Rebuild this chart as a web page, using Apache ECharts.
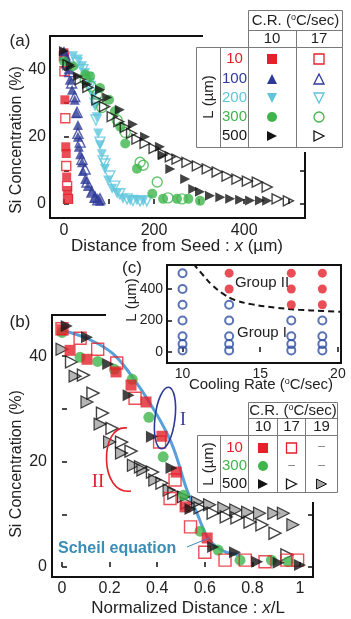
<!DOCTYPE html>
<html>
<head>
<meta charset="utf-8">
<script src="https://cdn.jsdelivr.net/npm/echarts@6/dist/echarts.min.js"></script>
<style>
html,body{margin:0;padding:0;background:#fff}
#chart{width:351px;height:619px}
</style>
</head>
<body>
<div id="chart"></div>
<script>
// ---------- Panel (a): Si concentration vs. distance from seed x (µm) ----------
// L = 10 µm
const a_L10_CR10 = [[0,45],[2,31],[4,17],[5,15],[6,8],[8,4],[10,1.5]];
const a_L10_CR17 = [[0,44],[1,39.5],[3,25.5],[5,11.3],[7,5.3],[9,1.5]];
// L = 100 µm
const a_L100_CR10 = [[0,45.5],[5,43.5],[10,40],[13,37],[18,34],[24,31],[28,27],[31,23.5],[31,20],[33,17],[36,14.8],[40,12.4],[42,9.8],[47,7.4],[53,5.3],[62,3.6],[69,2],[80,0.9]];
const a_L100_CR17 = [[2,44.4],[6,42],[13,39.4],[17,36],[24,32],[29,27.3],[31,21],[36,18.4],[40,13.3],[47,10.4],[51,6.5],[62,3.5],[69,2],[75,1.2],[80,1.5]];
// L = 200 µm
const a_L200_CR10 = [[20,44],[31,43],[40,41],[47,39],[58,36],[65,32],[69,29],[73,25.8],[76,21],[80,17.5],[84,14.8],[91,10.4],[98,7],[107,4.5],[118,3],[131,1.5],[147,1],[162,1],[176,0.8]];
const a_L200_CR17 = [[29,42],[42,40],[53,37.6],[58,35],[64,33],[69,30],[71,25],[80,18.4],[87,12.8],[91,11.9],[102,8.3],[113,5.3],[124,3],[140,1.5],[153,1],[169,0.9],[184,0.9]];
// L = 300 µm
const a_L300_CR10 = [[0,42.5],[20,41],[47,38.5],[58,38],[80,34.5],[100,31],[113,27.6],[125,23],[136,18],[162,10.5],[196,3],[220,1.5],[251,1.5],[276,1.5],[302,0.9]];
const a_L300_CR17 = [[47,37],[60,35],[73,32.6],[84,28.7],[118,25],[136,21.3],[169,12.4],[176,11.5],[207,6.5],[231,1.8],[262,1.5]];
// L = 500 µm
const a_L500_CR10 = [[0,45.5],[15,41],[31,38],[51,35.6],[80,34],[96,31.7],[124,28],[153,23.7],[180,20],[213,17],[220,14.5],[236,10.4],[269,7.4],[287,4.4],[302,3.6],[324,2.4],[347,2],[369,1.5],[391,1.2],[413,1],[435,1],[451,0.9]];
const a_L500_CR17 = [[9,41.5],[36,37],[53,34.7],[73,31],[90,29],[107,26],[122,24.5],[136,22.8],[150,21],[162,19.3],[180,18],[200,16.5],[220,15],[236,14],[251,13.3],[273,12.4],[296,11.3],[318,10.4],[340,9.5],[362,8.3],[384,7.4],[407,6.8],[429,6.5],[451,5],[473,1.5],[498,0.9]];

// ---------- Panel (b): Si concentration vs. normalized distance x/L ----------
const b_L10_CR10 = [[0,45],[0.034,41.1],[0.105,39.4],[0.227,37],[0.29,34.5],[0.353,31.3],[0.42,24.8],[0.48,18],[0.517,11.4],[0.61,5.5]];
const b_L10_CR17 = [[0,45.2],[0.076,43.4],[0.15,41.3],[0.23,38.7],[0.307,32],[0.41,23.7],[0.475,16.5],[0.454,13],[0.54,7.6],[0.6,2.8],[0.685,1.3],[0.77,1.3],[0.853,1],[0.945,1.3],[0.99,1.3]];
const b_L300_CR10 = [[0,44.5],[0.076,39.8],[0.15,39],[0.22,37.5],[0.295,35.6],[0.365,28.4],[0.425,20.9],[0.51,13.6],[0.58,6.8],[0.656,3.2],[0.748,1.3],[0.88,1.3],[0.95,1]];
const b_L500_CR10 = [[0.02,45.7],[0.105,43.6],[0.194,38.5],[0.28,32.6],[0.378,24.7],[0.46,18.8],[0.54,11],[0.635,3.8],[0.727,2.8],[0.82,1],[0.91,0.8],[1.0,0.4]];
const b_L500_CR17 = [[0.04,38.9],[0.09,36.4],[0.13,33],[0.17,29.2],[0.21,26.3],[0.25,23.7],[0.29,22],[0.33,19],[0.38,18],[0.42,15.9],[0.47,14],[0.525,12.1],[0.58,11.2],[0.635,10.2],[0.69,9.5],[0.735,9.3],[0.79,8.5],[0.84,8],[0.895,6.4],[0.945,2.3]];
const b_L500_CR19 = [[0,41.3],[0.055,36.2],[0.105,31.3],[0.16,27.1],[0.2,23.7],[0.25,21.6],[0.3,19.3],[0.34,18.4],[0.39,16.5],[0.45,14.6],[0.51,13.3],[0.57,12.3],[0.62,11.8],[0.68,11.2],[0.73,10.8],[0.78,10.4],[0.83,10.2],[0.89,10.2],[0.93,10.2],[0.97,8]];
// Scheil equation curve
const b_Scheil = [[0,44.9],[0.113,43.2],[0.21,40.6],[0.29,36.4],[0.38,30.3],[0.46,23.5],[0.525,14.6],[0.567,10.2],[0.61,5.7],[0.65,3.8],[0.69,2.8],[0.75,2.3]];

// ---------- Panel (c): L vs. cooling rate map ----------
const c_GroupI = [[10,500],[10,400],[10,300],[10,200],[10,100],[10,50],[10,10],[13,300],[13,200],[13,100],[13,50],[13,10],[17,200],[17,100],[17,50],[17,10],[19,200],[19,100],[19,50],[19,10]];
const c_GroupII = [[13,500],[13,400],[17,500],[17,400],[17,300],[19,500],[19,400],[19,300]];
const c_Boundary = [[10.7,560],[11.3,490],[11.9,425],[12.6,370],[13.35,330],[14.5,302],[15.9,282],[17.5,268],[19,260],[20.2,255]];

// ---------- tick and label values ----------
const aXTicks = [0,100,200,300,400,500], aXLabels = [0,200,400];
const aYTicks = [0,10,20,30,40], aYLabels = [0,20,40];
const bXTicks = [0,0.2,0.4,0.6,0.8,1], bXLabels = [0,0.2,0.4,0.6,0.8,1];
const bYTicks = [0,10,20,30,40], bYLabels = [0,20,40];
const cXTicks = [10,15,20], cXLabels = [10,15,20];
const cYTicks = [0,200,400], cYLabels = [0,200,400];
const rightTicks = [0,10];

// ---------- styling ----------
const RED = '#e4202b', BLUE = '#2d3a97', CYAN = '#5ec4dc', GREEN = '#3fb54b', BLACK = '#141414';
const GRAYF = '#a3a3a3', SCHEIL = '#5a9fd8', SCHEIL_TXT = '#3a8db5', CIRC = '#3150a3';
const INK = '#222', TL = '#7a7a7a';
const FONT = '"Liberation Sans", Arial, Helvetica, sans-serif';
const SERIF = '"Liberation Serif", "Times New Roman", serif';

const yIdx = [0, 2, 4];
const SYM = {square:'rect', circle:'circle', up:'triangle', down:'triangle', right:'triangle'};
const ROT = {square:0, circle:0, up:0, down:180, right:-90};

function pts(gi, data, shape, color, filled, size, extra) {
  return Object.assign({
    type: 'scatter', xAxisIndex: gi, yAxisIndex: yIdx[gi], data: data,
    symbol: SYM[shape], symbolRotate: ROT[shape], symbolSize: size,
    itemStyle: filled ? {color: color, borderWidth: 0}
                      : {color: 'rgba(255,255,255,0)', borderColor: color, borderWidth: 1.4},
    z: 3, silent: true, animation: false
  }, extra || {});
}

function xAxisCfg(gi, min, max, ticks, labels, fs, margin, fmt, z) {
  return {
    gridIndex: gi, type: 'value', min: min, max: max, z: z || 0,
    axisLine: {show: false}, splitLine: {show: false},
    axisTick: {show: true, inside: true, length: 5, customValues: ticks, lineStyle: {color: '#111', width: 1.5}},
    axisLabel: {show: true, customValues: labels, fontSize: fs, fontFamily: FONT, color: INK, margin: margin, formatter: fmt}
  };
}
function yAxisCfg(gi, min, max, ticks, labels, fs, margin, z) {
  return {
    gridIndex: gi, type: 'value', min: min, max: max, z: z || 0,
    axisLine: {show: false}, splitLine: {show: false},
    axisTick: {show: true, inside: true, length: 5, customValues: ticks, lineStyle: {color: '#111', width: 1.5}},
    axisLabel: {show: true, customValues: labels, fontSize: fs, fontFamily: FONT, color: INK, margin: margin}
  };
}
function rightAxisCfg(gi, min, max) {
  return {
    gridIndex: gi, type: 'value', position: 'right', min: min, max: max,
    axisLine: {show: false}, splitLine: {show: false},
    axisTick: {show: true, inside: true, length: 5, customValues: rightTicks, lineStyle: {color: '#111', width: 1.5}},
    axisLabel: {show: false}
  };
}

// ---------- graphic helpers (legend tables, annotations) ----------
function txt(x, y, text, opt) {
  opt = opt || {};
  return {
    type: 'text', x: x, y: y, rotation: opt.rotation || 0, z: opt.z || 10, silent: true,
    style: {
      text: text, fill: opt.color || INK, fontSize: opt.size || 15, fontFamily: opt.family || FONT,
      fontWeight: opt.weight || 'normal', align: opt.align || 'center', verticalAlign: 'middle',
      rich: opt.rich
    }
  };
}
function line(x1, y1, x2, y2, color, w, z) {
  return {type: 'line', z: z || 11, silent: true, shape: {x1: x1, y1: y1, x2: x2, y2: y2}, style: {stroke: color || TL, lineWidth: w || 1}};
}
function box(x, y, w, h, z) {
  return {type: 'rect', z: z || 10, silent: true, shape: {x: x, y: y, width: w, height: h}, style: {fill: '#fff', stroke: TL, lineWidth: 1}};
}
function cover(x, y, w, h) {
  return {type: 'rect', z: 1, silent: true, shape: {x: x, y: y, width: w, height: h}, style: {fill: '#fff'}};
}
function key(shape, cx, cy, color, filled, s, stroke) {
  const st = filled ? {fill: color, stroke: stroke || null, lineWidth: stroke ? 1 : 0}
                    : {fill: '#fff', stroke: color, lineWidth: 1.3};
  const h = s / 2;
  const base = {z: 12, silent: true, style: st};
  if (shape === 'square') return Object.assign({type: 'rect', shape: {x: cx - h, y: cy - h, width: s, height: s}}, base);
  if (shape === 'circle') return Object.assign({type: 'circle', shape: {cx: cx, cy: cy, r: h}}, base);
  let p;
  if (shape === 'up') p = [[cx, cy - h], [cx + h, cy + h], [cx - h, cy + h]];
  else if (shape === 'down') p = [[cx - h, cy - h], [cx + h, cy - h], [cx, cy + h]];
  else p = [[cx - h, cy - h], [cx + h, cy], [cx - h, cy + h]];
  return Object.assign({type: 'polygon', shape: {points: p}}, base);
}

const supRich = {s: {fontSize: 9, fontFamily: FONT, fill: INK, verticalAlign: 'top'}};
const italRich = {i: {fontStyle: 'italic', fontSize: 17, fontFamily: FONT, fill: INK}};

// legend table for panel (a)
const tableA = [
  box(248.5, 10.5, 94, 37), box(196.5, 47.5, 146, 100),
  line(248.5, 30.5, 342.5, 30.5), line(220.5, 47.5, 220.5, 147.5),
  line(248.5, 47.5, 248.5, 147.5), line(296.5, 30.5, 296.5, 147.5),
  txt(295.5, 20.5, 'C.R. ({s|o}C/sec)', {rich: supRich}),
  txt(272, 39, '10'), txt(319, 39, '17'),
  txt(208.5, 97, 'L (µm)', {rotation: Math.PI / 2})
];
[['10', RED, 59, 'square'], ['100', BLUE, 79, 'up'], ['200', CYAN, 98, 'down'], ['300', GREEN, 117, 'circle'], ['500', BLACK, 136, 'right']]
  .forEach(function (r) {
    tableA.push(txt(234.5, r[2], r[0], {color: r[1]}));
    tableA.push(key(r[3], 272, r[2], r[1], true, 10));
    tableA.push(key(r[3], 319, r[2], r[1], false, 10));
  });

// legend table for panel (b)
const tableB = [
  box(248.5, 402.5, 89, 33), box(197.5, 435.5, 140, 57),
  line(248.5, 418.5, 337.5, 418.5), line(220.5, 435.5, 220.5, 492.5),
  line(248.5, 435.5, 248.5, 492.5), line(277.5, 418.5, 277.5, 492.5), line(305.5, 418.5, 305.5, 492.5),
  txt(293, 410.5, 'C.R. ({s|o}C/sec)', {rich: supRich}),
  txt(263, 427, '10'), txt(291.5, 427, '17'), txt(321.5, 427, '19'),
  txt(209, 464, 'L (µm)', {rotation: Math.PI / 2}),
  txt(234.5, 448, '10', {color: RED}), txt(234.5, 466, '300', {color: GREEN}), txt(234.5, 484, '500', {color: BLACK}),
  key('square', 263, 448, RED, true, 10), key('square', 291.5, 448, RED, false, 10),
  key('circle', 263, 466, GREEN, true, 10),
  key('right', 263, 484, BLACK, true, 10), key('right', 291.5, 484, BLACK, false, 10),
  key('right', 321.5, 484, GRAYF, true, 10, BLACK),
  txt(321.5, 447, '–', {color: '#777', size: 12}), txt(291.5, 466, '–', {color: '#777', size: 12}),
  txt(321.5, 466, '–', {color: '#777', size: 12})
];

const annotations = [
  // frame segments hidden behind the legend table and the inset
  cover(203, 28, 110, 14), cover(299, 28, 14, 124),
  cover(106, 308, 213, 14), cover(306, 308, 14, 194),
  // panel tags
  txt(20, 41, '(a)', {size: 17}), txt(20, 322, '(b)', {size: 17}), txt(132, 268, '(c)', {size: 17}),
  // axis titles
  txt(17, 140, 'Si Concentration (%)', {size: 16, rotation: Math.PI / 2}),
  txt(177, 246, 'Distance from Seed : {i|x} (µm)', {size: 17, rich: italRich}),
  txt(17, 464, 'Si Concentration (%)', {size: 16, rotation: Math.PI / 2}),
  txt(188, 608, 'Normalized Distance : {i|x}/L', {size: 17, rich: italRich}),
  txt(132, 300, 'L (µm)', {size: 15, rotation: Math.PI / 2}),
  txt(261, 385, 'Cooling Rate ({s|o}C/sec)', {size: 15, rich: {s: {fontSize: 9, fontFamily: FONT, fill: INK, verticalAlign: 'top'}}}),
  // inset group names
  txt(262, 283, 'Group II', {size: 15, z: 20}), txt(262, 333, 'Group I', {size: 15, z: 20}),
  // group outlines in (b)
  {type: 'ellipse', x: 165, y: 418, rotation: -0.12, z: 15, silent: true,
   shape: {cx: 0, cy: 0, rx: 10, ry: 31}, style: {fill: 'none', stroke: BLUE, lineWidth: 1.6}},
  txt(183, 420, 'I', {family: SERIF, size: 18, color: BLUE}),
  {type: 'bezierCurve', z: 15, silent: true,
   shape: {x1: 127, y1: 428, cpx1: 99, cpy1: 424, cpx2: 99, cpy2: 496, x2: 131, y2: 491},
   style: {fill: 'none', stroke: RED, lineWidth: 1.6}},
  txt(98, 482, 'II', {family: SERIF, size: 19, color: RED}),
  // Scheil label and pointer
  txt(58, 549, 'Scheil equation', {align: 'left', size: 16, weight: 'bold', color: SCHEIL_TXT, z: 15}),
  line(187, 547, 209, 538, SCHEIL_TXT, 1, 15)
];

const option = {
  animation: false,
  backgroundColor: '#fff',
  grid: [
    {left: 50, top: 36, width: 255, height: 182, show: true, borderColor: '#111', borderWidth: 2, backgroundColor: 'transparent'},
    {left: 52, top: 315, width: 261, height: 262, show: true, borderColor: '#111', borderWidth: 2, backgroundColor: 'transparent'},
    {left: 167, top: 265, width: 174, height: 98, show: true, borderColor: '#111', borderWidth: 2, backgroundColor: 'transparent', z: 3}
  ],
  xAxis: [
    xAxisCfg(0, -31, 535, aXTicks, aXLabels, 16, 5),
    xAxisCfg(1, -0.042, 1.0546, bXTicks, bXLabels, 16, 4, function (v) { return String(+v.toFixed(1)); }),
    xAxisCfg(2, 9, 20.2, cXTicks, cXLabels, 14, 4, null, 3)
  ],
  yAxis: [
    yAxisCfg(0, -4.2, 50, aYTicks, aYLabels, 16, 4),
    rightAxisCfg(0, -4.2, 50),
    yAxisCfg(1, -1.9, 47.8, bYTicks, bYLabels, 16, 5),
    rightAxisCfg(1, -1.9, 47.8),
    yAxisCfg(2, -70, 552, cYTicks, cYLabels, 14, 4, 3)
  ],
  series: [
    // (a)
    pts(0, a_L10_CR10, 'square', RED, true, 9),
    pts(0, a_L10_CR17, 'square', RED, false, 9),
    pts(0, a_L100_CR10, 'up', BLUE, true, 10),
    pts(0, a_L100_CR17, 'up', BLUE, false, 10),
    pts(0, a_L200_CR10, 'down', CYAN, true, 10),
    pts(0, a_L200_CR17, 'down', CYAN, false, 10),
    pts(0, a_L300_CR10, 'circle', GREEN, true, 10),
    pts(0, a_L300_CR17, 'circle', GREEN, false, 10),
    pts(0, a_L500_CR10, 'right', BLACK, true, 10),
    pts(0, a_L500_CR17, 'right', BLACK, false, 10),
    // (b)
    {type: 'line', xAxisIndex: 1, yAxisIndex: 2, data: b_Scheil, smooth: 0.4, symbol: 'none',
     lineStyle: {color: SCHEIL, width: 3}, z: 2, silent: true, animation: false},
    pts(1, b_L500_CR19, 'right', GRAYF, true, 12, {itemStyle: {color: GRAYF, borderColor: BLACK, borderWidth: 1.2}}),
    pts(1, b_L500_CR17, 'right', BLACK, false, 12),
    pts(1, b_L300_CR10, 'circle', GREEN, true, 11),
    pts(1, b_L10_CR10, 'square', RED, true, 11),
    pts(1, b_L10_CR17, 'square', RED, false, 12),
    pts(1, b_L500_CR10, 'right', BLACK, true, 12),
    // (c)
    {type: 'line', xAxisIndex: 2, yAxisIndex: 4, data: c_Boundary, smooth: 0.4, symbol: 'none',
     lineStyle: {color: BLACK, width: 2, type: [6, 4]}, z: 4, silent: true, animation: false},
    pts(2, c_GroupI, 'circle', CIRC, false, 8, {itemStyle: {color: 'rgba(255,255,255,0)', borderColor: CIRC, borderWidth: 2}, z: 5}),
    pts(2, c_GroupII, 'circle', RED, true, 9, {z: 5})
  ],
  graphic: {elements: annotations.concat(tableA, tableB)}
};

const chart = echarts.init(document.getElementById('chart'), null, {renderer: 'canvas'});
chart.setOption(option);
</script>
</body>
</html>
